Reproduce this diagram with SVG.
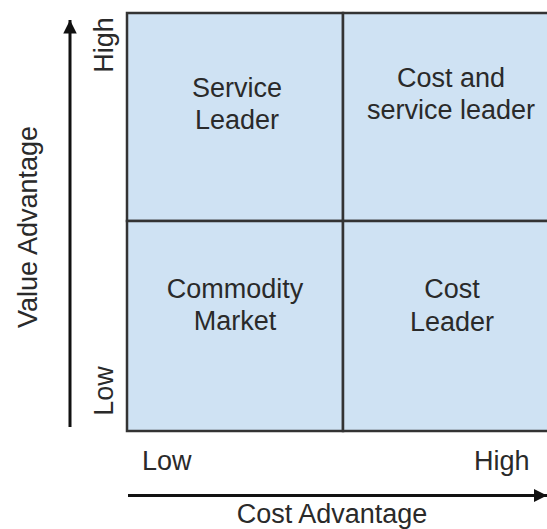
<svg xmlns="http://www.w3.org/2000/svg" width="547" height="529" viewBox="0 0 547 529">
<defs>
<style>
text{font-family:"Liberation Sans",Arial,sans-serif;font-size:27px;fill:#2a2a2a}
.c{text-anchor:middle}
.q{fill:#cfe2f3;stroke:#333;stroke-width:2.5}
.ax{stroke:#111;stroke-width:3;fill:none}
</style>
<marker id="ah" viewBox="0 0 10 10" refX="10" refY="5" markerWidth="4.5" markerHeight="4.5" markerUnits="strokeWidth" orient="auto">
<path d="M0,0L10,5L0,10z" fill="#111"/>
</marker>
</defs>
<rect width="547" height="529" fill="#fff"/>
<g id="service-leader"><rect class="q" x="127" y="13" width="216" height="208"/><text class="c" x="237" y="97">Service</text><text class="c" x="237" y="129">Leader</text></g>
<g id="cost-and-service-leader"><rect class="q" x="343" y="13" width="216" height="208"/><text class="c" x="451" y="87">Cost and</text><text class="c" x="451" y="119">service leader</text></g>
<g id="commodity-market"><rect class="q" x="127" y="221" width="216" height="210"/><text class="c" x="235" y="298">Commodity</text><text class="c" x="235" y="330">Market</text></g>
<g id="cost-leader"><rect class="q" x="343" y="221" width="216" height="210"/><text class="c" x="452" y="298">Cost</text><text class="c" x="452" y="331">Leader</text></g>
<g id="connectors">
<line class="ax" x1="70" y1="427" x2="70" y2="20" marker-end="url(#ah)"/>
<line class="ax" x1="128" y1="495.5" x2="547" y2="495.5" marker-end="url(#ah)"/>
</g>
<g id="labels">
<text class="c" transform="translate(113,45) rotate(-90)">High</text>
<text class="c" transform="translate(113,391) rotate(-90)">Low</text>
<text class="c" transform="translate(37,227) rotate(-90)">Value Advantage</text>
<text x="142" y="470">Low</text>
<text x="474" y="470">High</text>
<text class="c" x="332" y="523">Cost Advantage</text>
</g>
</svg>
